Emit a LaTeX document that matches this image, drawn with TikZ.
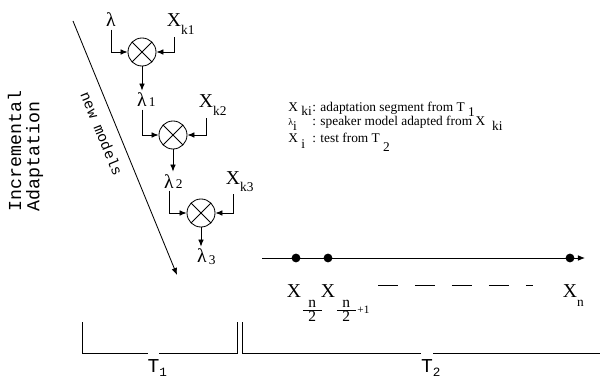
\documentclass[tikz,border=0pt]{standalone}
\usepackage{fontspec}
\setmainfont{Liberation Serif}
\setmonofont{Liberation Mono}
\usetikzlibrary{arrows.meta}

% subscript that takes no width, lowered by #1
\newcommand{\dnsub}[2]{\rlap{\raisebox{#1}{\fontsize{9.5}{10}\selectfont #2}}}
% half-index fraction under the test segments
\newcommand{\halfidx}{{\fontsize{11}{12}\selectfont$\frac{\makebox[13.5pt]{n}}{\makebox[13.5pt]{2}}$}}

\tikzset{
    mixer/.style={draw, circle, minimum size=0.7cm, inner sep=0pt,
        path picture={
            \draw (path picture bounding box.north west) -- (path picture bounding box.south east);
            \draw (path picture bounding box.south west) -- (path picture bounding box.north east);
        }},
    big/.style={font=\fontsize{14}{16}\selectfont, inner sep=1.5pt, anchor=base},
    legend/.style={font=\fontsize{9.5}{11}\selectfont, inner sep=0pt, anchor=base west},
    dot/.style={circle, fill, minimum size=0.22cm, inner sep=0pt},
    tlabel/.style={font=\ttfamily\fontsize{14}{16}\selectfont, fill=white, inner sep=0pt,
        text height=14.5pt, anchor=base}
}

\begin{document}
\begin{tikzpicture}[x=0.025cm, y=-0.025cm, line width=0.6pt,
    >={Latex[length=5pt,width=4pt]}]
    \useasboundingbox (0,0) rectangle (600,381);

    % Side title
    \node[font=\ttfamily\fontsize{13}{13}\selectfont, rotate=90, align=left]
        (title) at (25.5,151) {Incremental\\Adaptation};

    % Direction of the new models
    \coordinate (ntop) at (73,21);
    \coordinate (nbot) at (177,275);
    \draw[->] (ntop) -- (nbot)
        node[pos=0.42, sloped, below=4pt, font=\ttfamily\fontsize{10.5}{12}\selectfont] (newm) {new models};

    % First adaptation step
    \node[big] (lam0) at (111,27) {λ};
    \node[big] (xk1) at (174,27) {X\dnsub{-5.5pt}{k1}};
    \node[mixer] (m1) at (142,52) {};
    \draw[->] (lam0.south) |- (m1.west);
    \draw[->] (xk1.south) |- (m1.east);

    % Second adaptation step
    \node[big] (lam1) at (142,107) {λ\dnsub{0pt}{\,1}};
    \node[big] (xk2) at (206,108) {X\dnsub{-5.5pt}{k2}};
    \node[mixer] (m2) at (173,135) {};
    \draw[->] (m1.south) -- (m1.south |- lam1.north);
    \draw[->] (lam1.south) |- (m2.west);
    \draw[->] (xk2.south) |- (m2.east);

    % Third adaptation step
    \node[big] (lam2) at (169,188) {λ\dnsub{0pt}{\,2}};
    \node[big] (xk3) at (233,184) {X\dnsub{-5.5pt}{k3}};
    \node[mixer] (m3) at (201,213) {};
    \draw[->] (m2.south) -- (m2.south |- lam2.north);
    \draw[->] (lam2.south) |- (m3.west);
    \draw[->] (xk3.south) |- (m3.east);

    % Last model
    \node[big] (lam3) at (202,263) {λ\dnsub{-1pt}{\,3}};
    \draw[->] (m3.south) -- (m3.south |- lam3.north);

    % Legend
    \node[legend] (leg1) at (288,112) {\makebox[17pt][l]{X \raisebox{-2.5pt}{ki}}: adaptation segment from T \raisebox{-3pt}{1}};
    \node[legend] (leg2) at (288,126) {\makebox[17pt][l]{{\fontsize{7}{8}\selectfont λ}\raisebox{-3pt}{i}}: speaker model adapted from X\hspace{5pt}\raisebox{-3pt}{ki}};
    \node[legend] (leg3) at (288,143) {\makebox[17pt][l]{X \raisebox{-4pt}{i}}: test from T \raisebox{-6pt}{2}};

    % Test time line
    \coordinate (tl0) at (262,258);
    \coordinate (tl1) at (585,258);
    \draw[->] (tl0) -- (tl1);
    \node[dot] (d1) at (296,258) {};
    \node[dot] (d2) at (328,258) {};
    \node[dot] (dn) at (570,258) {};

    % Test segments
    \node[big] (xa) at (294,297) {X\rlap{\raisebox{-12pt}{\halfidx}}};
    \node[big] (xb) at (328,297) {X\rlap{\raisebox{-12pt}{\halfidx{\fontsize{8}{9}\selectfont +1}}}};
    \node[big] (xn) at (570,297) {X\dnsub{-7pt}{n}};
    \coordinate (dsa) at (378,285);
    \coordinate (dsb) at (533,285);
    \draw[dash pattern=on 14.2pt off 12.1pt] (dsa) -- (dsb);

    % Time periods
    \draw (82,322) |- (237,353) -- (237,322);
    \draw (242,322) |- (600,353);
    \node[tlabel] (t1) at (153.5,372) {T\rlap{\raisebox{-3.5pt}{\fontsize{9}{10}\selectfont 1}}};
    \node[tlabel] (t2) at (427,372) {T\rlap{\raisebox{-3.5pt}{\fontsize{9}{10}\selectfont 2}}};

\end{tikzpicture}
\end{document}
